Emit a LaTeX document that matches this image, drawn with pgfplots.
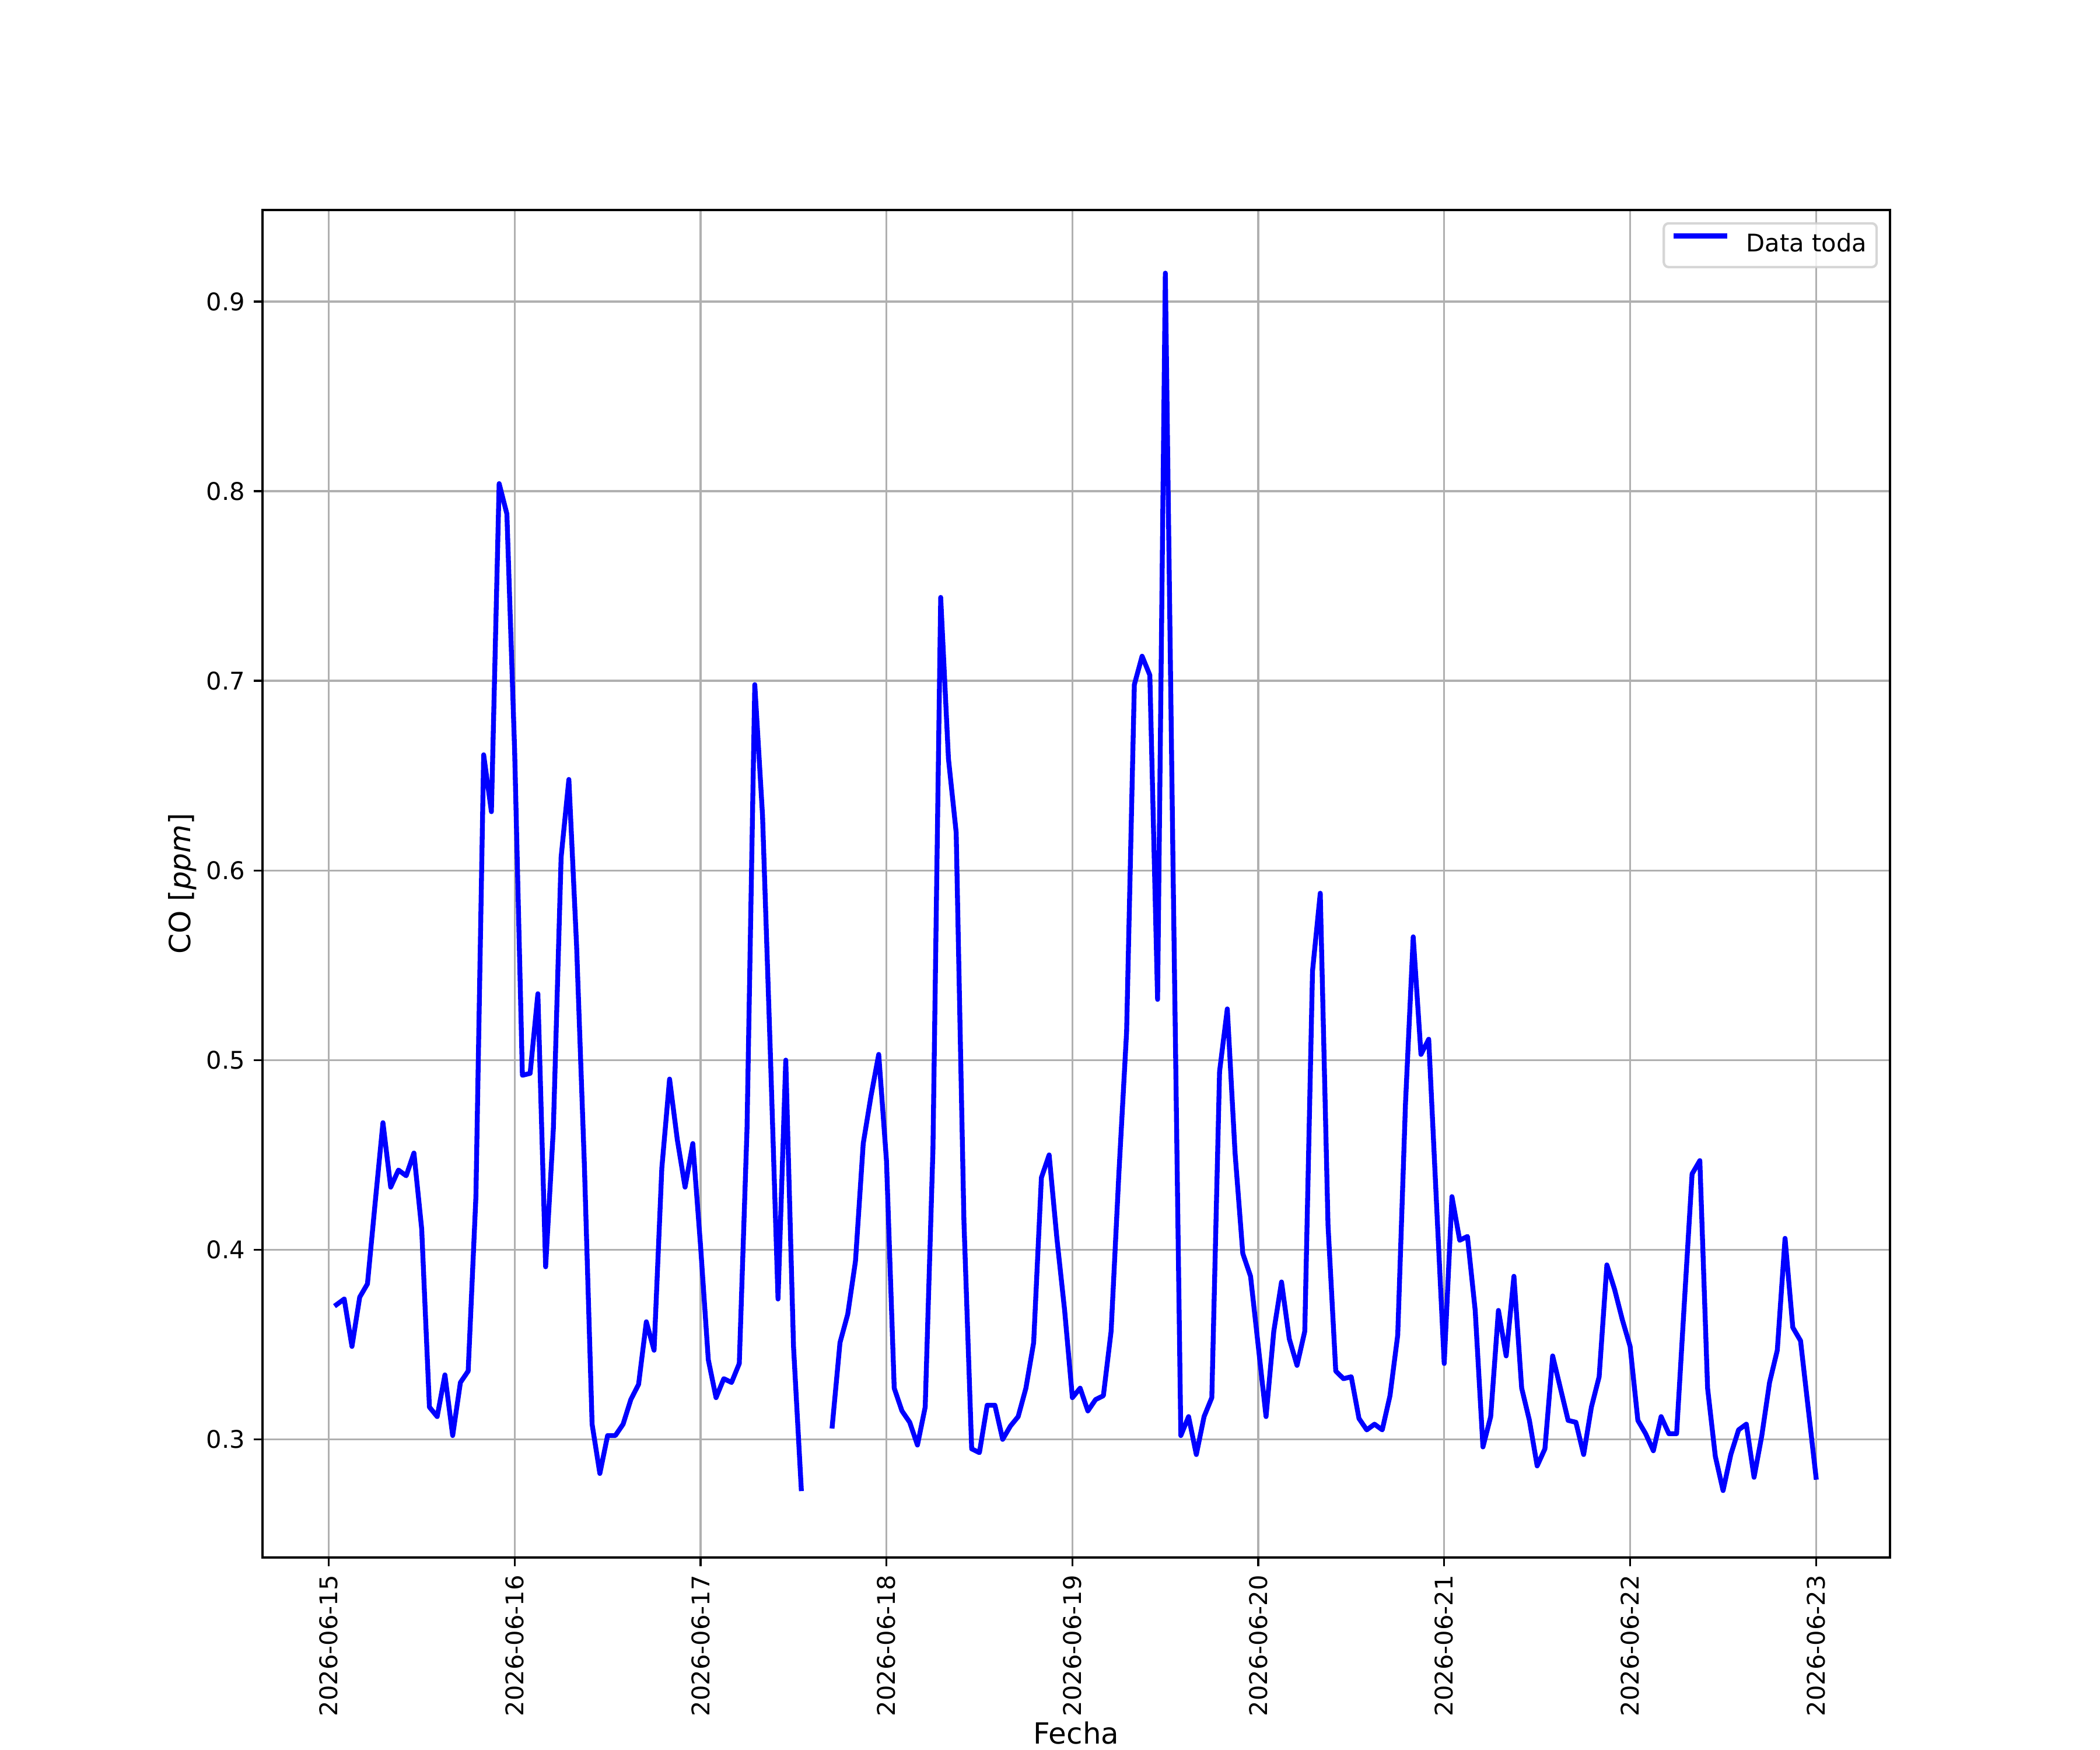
\documentclass[border=0pt]{standalone}
\usepackage{fontspec}
\setmainfont{DejaVu Sans}
\usepackage{pgfplots}
\pgfplotsset{compat=1.18}
\usepackage{pgfplotstable}
\pgfplotstableread{
h co
1 0.371
2 0.374
3 0.349
4 0.375
5 0.382
6 0.425
7 0.467
8 0.433
9 0.442
10 0.439
11 0.451
12 0.411
13 0.317
14 0.312
15 0.334
16 0.302
17 0.330
18 0.336
19 0.428
20 0.661
21 0.631
22 0.804
23 0.788
24 0.663
25 0.492
26 0.493
27 0.535
28 0.391
29 0.464
30 0.607
31 0.648
32 0.560
33 0.445
34 0.308
35 0.282
36 0.302
37 0.302
38 0.308
39 0.321
40 0.329
41 0.362
42 0.347
43 0.443
44 0.490
45 0.458
46 0.433
47 0.456
48 0.402
49 0.342
50 0.322
51 0.332
52 0.330
53 0.340
54 0.464
55 0.698
56 0.629
57 0.505
58 0.374
59 0.500
60 0.349
61 0.274
62 nan
63 nan
64 nan
65 0.307
66 0.351
67 0.366
68 0.394
69 0.456
70 0.481
71 0.503
72 0.447
73 0.327
74 0.315
75 0.309
76 0.297
77 0.317
78 0.453
79 0.744
80 0.659
81 0.620
82 0.415
83 0.295
84 0.293
85 0.318
86 0.318
87 0.300
88 0.307
89 0.312
90 0.327
91 0.351
92 0.438
93 0.450
94 0.406
95 0.368
96 0.322
97 0.327
98 0.315
99 0.321
100 0.323
101 0.357
102 0.440
103 0.515
104 0.698
105 0.713
106 0.703
107 0.532
108 0.915
109 0.600
110 0.302
111 0.312
112 0.292
113 0.312
114 0.322
115 0.494
116 0.527
117 0.451
118 0.398
119 0.386
120 0.349
121 0.312
122 0.357
123 0.383
124 0.353
125 0.339
126 0.357
127 0.547
128 0.588
129 0.413
130 0.336
131 0.332
132 0.333
133 0.311
134 0.305
135 0.308
136 0.305
137 0.323
138 0.355
139 0.477
140 0.565
141 0.503
142 0.511
143 0.425
144 0.340
145 0.428
146 0.405
147 0.407
148 0.368
149 0.296
150 0.312
151 0.368
152 0.344
153 0.386
154 0.327
155 0.310
156 0.286
157 0.295
158 0.344
159 0.327
160 0.310
161 0.309
162 0.292
163 0.317
164 0.333
165 0.392
166 0.379
167 0.363
168 0.349
169 0.310
170 0.303
171 0.294
172 0.312
173 0.303
174 0.303
175 0.372
176 0.440
177 0.447
178 0.327
179 0.291
180 0.273
181 0.292
182 0.305
183 0.308
184 0.280
185 0.302
186 0.330
187 0.347
188 0.406
189 0.359
190 0.352
191 0.316
192 0.280
}\codata
\begin{document}
\begin{tikzpicture}
\path[use as bounding box] (-1.5in,-1.1in) rectangle (10.5in,8.9in);
\begin{axis}[
  at={(0,0)}, anchor=south west,
  scale only axis, width=9.3in, height=7.7in,
  xmin=-8.55, xmax=201.55, ymin=0.2377, ymax=0.9483,
  unbounded coords=jump,
  xtick={0,24,48,72,96,120,144,168,192},
  xticklabels={2026-06-15,2026-06-16,2026-06-17,2026-06-18,2026-06-19,2026-06-20,2026-06-21,2026-06-22,2026-06-23},
  ytick={0.3,0.4,0.5,0.6,0.7,0.8,0.9},
  yticklabels={0.3,0.4,0.5,0.6,0.7,0.8,0.9},
  minor tick num=0,
  tick pos=left,
  tick align=outside, major tick length=3.5bp,
  major tick style={black, line width=0.8bp},
  grid=major, major grid style={color=black!31, line width=0.8bp},
  axis line style={line width=0.8bp},
  tick label style={font=\fontsize{10bp}{12bp}\selectfont, inner sep=0pt},
  xticklabel style={rotate=90, anchor=east},
  yticklabel style={anchor=east},
  xticklabel shift=3.5bp, yticklabel shift=3.5bp,
  xlabel={Fecha}, ylabel={CO [\textit{ppm}]},
  label style={font=\fontsize{12bp}{14bp}\selectfont, inner sep=0pt},
  xlabel style={at={([yshift=-67.3bp]axis description cs:0.5,0)}, anchor=north},
  ylabel style={at={([xshift=-26.9bp]axis description cs:0,0.5)}, anchor=south, rotate=0},
  legend style={at={(1,1)}, anchor=north east, xshift=-5bp, yshift=-5bp,
    draw=black!20, draw opacity=0.8, line width=1bp, rounded corners=2bp,
    fill=white, fill opacity=0.8, text opacity=1,
    font=\fontsize{10bp}{12bp}\selectfont,
    inner xsep=4bp, inner ysep=4bp, column sep=8bp,
    nodes={inner sep=0pt, text height=7.6bp, text depth=2.4bp}},
  legend image code/.code={\draw[#1, draw opacity=1, line width=2bp, rounded corners=0pt] (0bp,3.8bp) -- (20bp,3.8bp);},
]
\addplot[color=blue, line width=2bp, line join=round, line cap=rect] table[x=h, y=co] {\codata};
\addlegendentry{Data toda}
\end{axis}
\end{tikzpicture}
\end{document}
